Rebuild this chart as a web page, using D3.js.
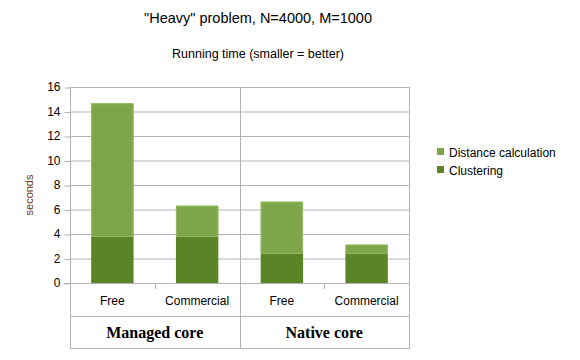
<!DOCTYPE html>
<html><head><meta charset="utf-8">
<script src="https://cdn.jsdelivr.net/npm/d3@7"></script>
<style>body{margin:0;background:#fff}svg{display:block}</style>
</head><body><svg id="c" width="580" height="360"></svg>
<script>
const groups = ["Managed core", "Native core"];
const categories = ["Free", "Commercial", "Free", "Commercial"];
const categoryGroup = [0, 0, 1, 1];
const clustering = [3.78, 3.78, 2.39, 2.39];
const distance = [10.89, 2.53, 4.25, 0.74];
const seriesNames = ["Distance calculation", "Clustering"];
const yTicks = [0, 2, 4, 6, 8, 10, 12, 14, 16];

const colors = {"Clustering": "#5b8427", "Distance calculation": "#7ea648"};
const svg = d3.select("#c");
const L = 70, R = 409, T = 87, B = 283;
const font = "Liberation Sans, Arial, sans-serif";

const x = d3.scaleBand().domain(d3.range(categories.length)).range([L, R]).paddingInner(0).paddingOuter(0);
const y = d3.scaleLinear().domain([0, 16]).range([B, T]);

// gridlines
svg.append("g").selectAll("line").data(yTicks).join("line")
  .attr("x1", L).attr("x2", R).attr("y1", d => y(d) + 0.5).attr("y2", d => y(d) + 0.5)
  .attr("stroke", "#b3b3b3");

// y axis
const ya = svg.append("g").attr("transform", `translate(${L + 0.5},0)`)
  .call(d3.axisLeft(y).tickValues(yTicks).tickSize(6).tickPadding(4));
ya.select(".domain").attr("stroke", "#b3b3b3").attr("d", `M0,${T}V${B}`);
ya.selectAll(".tick line").attr("stroke", "#b3b3b3").attr("transform", "translate(0,0.5)");
ya.selectAll(".tick text").attr("font-family", font).attr("font-size", 12).attr("fill", "#000");

// stacked bars
const stackData = categories.map((c, i) => ({i, "Clustering": clustering[i], "Distance calculation": distance[i]}));
const stack = d3.stack().keys(["Clustering", "Distance calculation"])(stackData);
const bw = x.bandwidth() * 0.5;
svg.append("g").selectAll("g").data(stack).join("g")
  .attr("fill", d => colors[d.key])
  .selectAll("rect").data(d => d).join("rect")
  .attr("x", d => x(d.data.i) + (x.bandwidth() - bw) / 2)
  .attr("width", bw)
  .attr("y", d => y(d[1]))
  .attr("height", d => y(d[0]) - y(d[1]));
// light outline on top segment (top and sides)
svg.append("g").selectAll("path").data(stack[1]).join("path")
  .attr("d", d => {
    const x0 = x(d.data.i) + (x.bandwidth() - bw) / 2 + 0.5, x1 = x0 + bw - 1;
    const y0 = y(d[0]), y1 = y(d[1]) + 0.5;
    return `M${x0},${y0}V${y1}H${x1}V${y0}`;
  })
  .attr("fill", "none").attr("stroke", "#93bb63").attr("stroke-width", 1);

// x axis and category table
const line = (x1, y1, x2, y2) => svg.append("line").attr("x1", x1).attr("y1", y1).attr("x2", x2).attr("y2", y2).attr("stroke", "#b3b3b3");
line(L - 6, B + 0.5, R + 0.5, B + 0.5);
line(L + 0.5, B, L + 0.5, 348.5);
line(R + 0.5, T, R + 0.5, 348.5);
const mid = Math.round(x(2)) + 0.5;
line(mid, T, mid, 348.5);
line(L, 316.5, R + 1, 316.5);
line(L, 348.5, R + 1, 348.5);
[1, 3].forEach(i => line(Math.round(x(i)) + 0.5, B, Math.round(x(i)) + 0.5, B + 6));

svg.append("g").selectAll("text").data(categories).join("text")
  .attr("x", (d, i) => x(i) + x.bandwidth() / 2).attr("y", 305)
  .attr("text-anchor", "middle").attr("font-family", font).attr("font-size", 12)
  .text(d => d);

svg.append("g").selectAll("text").data(groups).join("text")
  .attr("x", (d, g) => {
    const idx = categoryGroup.map((v, i) => v === g ? i : -1).filter(v => v >= 0);
    return (x(idx[0]) + x(idx[idx.length - 1]) + x.bandwidth()) / 2;
  })
  .attr("y", 337.5).attr("text-anchor", "middle")
  .attr("font-family", "Liberation Serif, Times New Roman, serif").attr("font-weight", "bold").attr("font-size", 16)
  .text(d => d);

// titles
svg.append("text").attr("x", 258).attr("y", 23).attr("text-anchor", "middle")
  .attr("font-family", font).attr("font-size", 14.5).text('"Heavy" problem, N=4000, M=1000');
svg.append("text").attr("x", 258).attr("y", 58).attr("text-anchor", "middle")
  .attr("font-family", font).attr("font-size", 12.5).text("Running time (smaller = better)");

// y label
svg.append("text").attr("transform", "translate(33,195) rotate(-90)").attr("text-anchor", "middle")
  .attr("font-family", font).attr("font-size", 11).attr("fill", "#6b3410").text("seconds");

// legend
const lg = svg.append("g").selectAll("g").data(seriesNames).join("g")
  .attr("transform", (d, i) => `translate(437,${148 + i * 18})`);
lg.append("rect").attr("width", 7).attr("height", 7).attr("fill", d => colors[d]);
lg.append("text").attr("x", 12).attr("y", 8.5).attr("font-family", font).attr("font-size", 12).text(d => d);
</script></body></html>
